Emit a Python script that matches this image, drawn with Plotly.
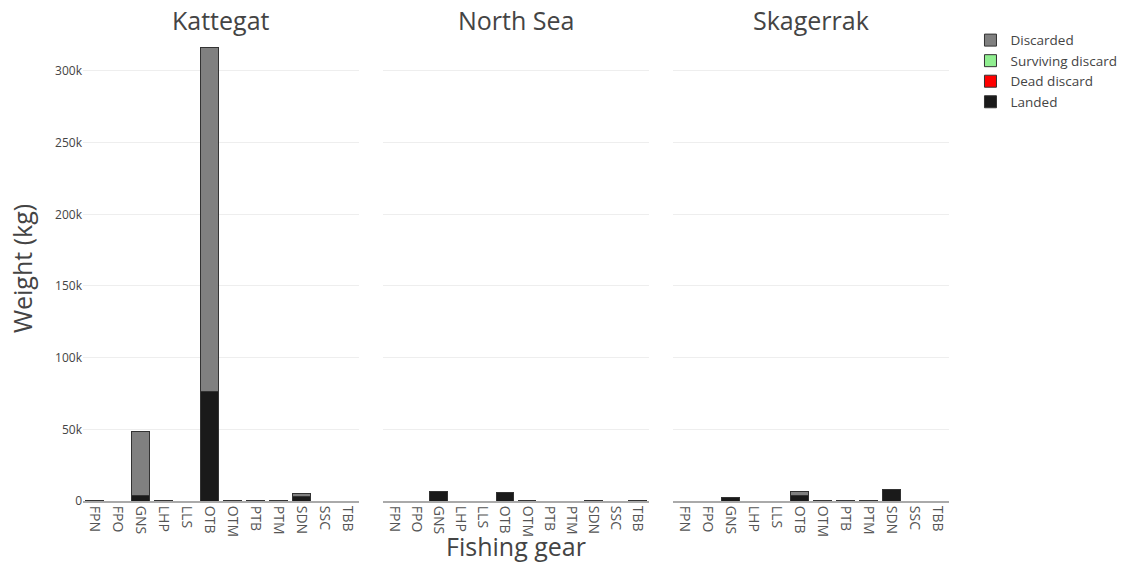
import plotly.graph_objects as go
from plotly.subplots import make_subplots

gears = ["FPN", "FPO", "GNS", "LHP", "LLS", "OTB", "OTM", "PTB", "PTM", "SDN", "SSC", "TBB"]
areas = ["Kattegat", "North Sea", "Skagerrak"]

# Weight per gear (kg); None where nothing was recorded
kattegat_landed = [600, None, 3500, 500, None, 76700, 500, 500, 500, 3200, None, None]
kattegat_dead = [None] * 12
kattegat_surviving = [None] * 12
kattegat_discarded = [None, None, 45300, None, None, 240000, None, None, None, 2300, None, None]

north_sea_landed = [None, None, 6300, None, None, 6200, 500, None, None, 500, None, 500]
north_sea_dead = [None] * 12
north_sea_surviving = [None] * 12
north_sea_discarded = [None] * 12

skagerrak_landed = [None, None, 2300, None, None, 4000, 400, 400, 400, 7700, None, None]
skagerrak_dead = [None] * 12
skagerrak_surviving = [None] * 12
skagerrak_discarded = [None, None, None, None, None, 2700, None, None, None, None, None, None]

series = [
    ("Landed", "#1a1a1a", [kattegat_landed, north_sea_landed, skagerrak_landed]),
    ("Dead discard", "#ff0000", [kattegat_dead, north_sea_dead, skagerrak_dead]),
    ("Surviving discard", "#90ee90", [kattegat_surviving, north_sea_surviving, skagerrak_surviving]),
    ("Discarded", "#808080", [kattegat_discarded, north_sea_discarded, skagerrak_discarded]),
]

fig = make_subplots(rows=1, cols=3, shared_yaxes=True, subplot_titles=areas,
                    horizontal_spacing=0.028)

for name, color, per_area in series:
    for i, values in enumerate(per_area):
        fig.add_trace(go.Bar(
            x=gears, y=values, name=name,
            showlegend=(i == 0),
            marker=dict(color=color, line=dict(color="#333333", width=1)),
        ), row=1, col=i + 1)

fig.update_layout(
    barmode="stack",
    width=1124, height=563,
    margin=dict(l=83, r=174.5, t=36, b=62, autoexpand=False),
    paper_bgcolor="white", plot_bgcolor="white",
    font=dict(family="Open Sans", color="#444", size=12),
    legend=dict(font=dict(size=13.5), traceorder="reversed", x=1.0248, y=1.024),
    showlegend=True,
    xaxis=dict(domain=[0.0, 0.3191]),
    xaxis2=dict(domain=[0.3468, 0.6532]),
    xaxis3=dict(domain=[0.6809, 1.0]),
)
fig.update_annotations(font=dict(size=25, color="#444"), yshift=-3)

for c in range(1, 4):
    fig.update_xaxes(row=1, col=c, type="category", categoryorder="array",
                     categoryarray=gears, range=[-0.5, 11.5], tickangle=90,
                     tickfont=dict(size=14, color="#555"), showline=True,
                     linecolor="#aaaaaa", linewidth=2, showgrid=False, ticks="",
                     automargin=False)
fig.update_xaxes(row=1, col=2, title=dict(text="Fishing gear", font=dict(size=25)),
                 title_standoff=2)
fig.update_yaxes(range=[0, 324400], gridcolor="#eeeeee", zeroline=False,
                 tickfont=dict(size=12), ticks="", automargin=False)
fig.update_yaxes(row=1, col=1, title=dict(text="Weight (kg)", font=dict(size=25)))

# keep subplot titles centred over their panels
for ann, ax in zip(fig.layout.annotations, ["xaxis", "xaxis2", "xaxis3"]):
    d = fig.layout[ax].domain
    ann.x = (d[0] + d[1]) / 2

fig.write_html("out.html")
